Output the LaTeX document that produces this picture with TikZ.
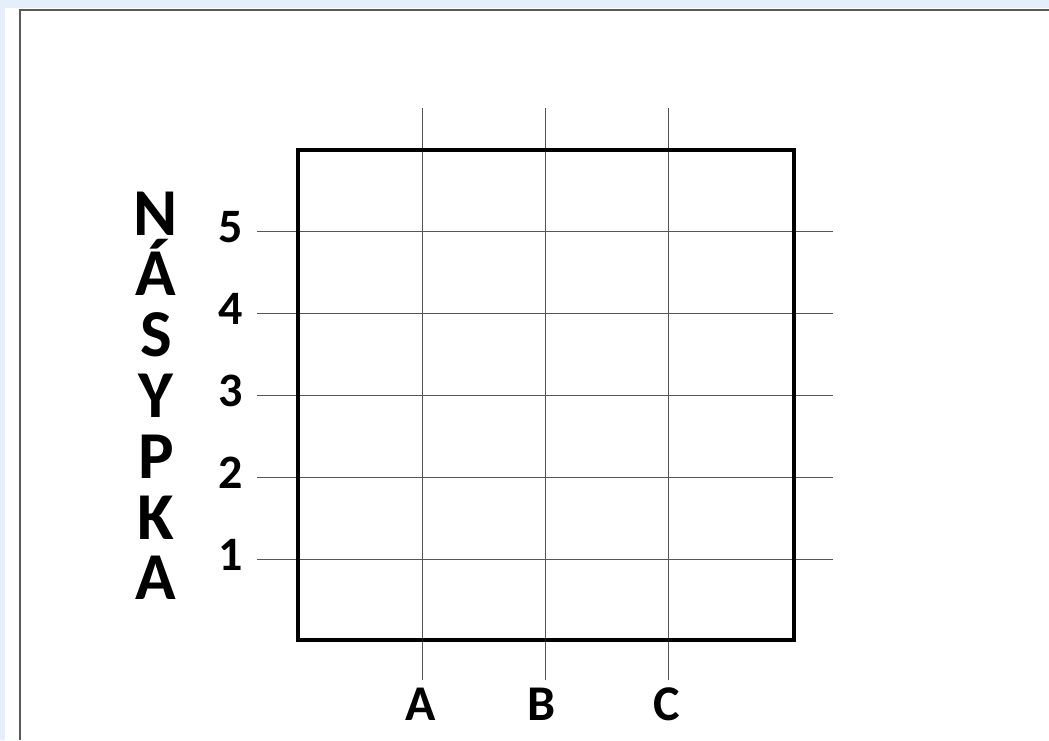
\documentclass[tikz,border=0pt]{standalone}
\usepackage{fontspec}
\setmainfont{Carlito}
\usepackage{tikz}
\usetikzlibrary{positioning}
\definecolor{winblue}{HTML}{E4EFFB}
\definecolor{gridgray}{HTML}{555555}

\tikzset{
  gridline/.style={gridgray, line width=0.5pt},
  rowlabel/.style={font=\fontsize{24}{24}\selectfont\bfseries},
  collabel/.style={font=\fontsize{25}{25}\selectfont\bfseries},
  bigletter/.style={anchor=base, inner sep=0pt, font=\fontsize{33.5}{33.5}\selectfont\bfseries}
}

\begin{document}
\begin{tikzpicture}[x=0.5pt,y=-0.5pt]
  \useasboundingbox (0,0) rectangle (1049,740);
  \fill[winblue] (0,0) rectangle (1049,740);
  \fill[white] (5,8) rectangle (1049,740);
  \draw[gray!70!black, line width=0.6pt] (1049,10) -- (20,10) -- (20,740);
  % grid
  \foreach \y in {231,313,395,477,559} {\draw[gridline] (257,\y) -- (833,\y);}
  \foreach \x in {422,545,668} {\draw[gridline] (\x,108) -- (\x,680);}
  \draw[line width=2pt] (298,150) rectangle (794,640);
  % labels
  \foreach \n/\y in {5/231,4/313,3/395,2/477,1/559} {\node[rowlabel] (row\n) at (231,\y-4) {\n};}
  \foreach \l/\x in {A/421,B/542,C/667} {\node[collabel] (col\l) at (\x,704) {\l};}
  \foreach \c [count=\i from 0] in {N,Á,S,Y,P,K,A} {\node[bigletter] (word\i) at (156,{235+60.8*\i}) {\c};}
\end{tikzpicture}
\end{document}
